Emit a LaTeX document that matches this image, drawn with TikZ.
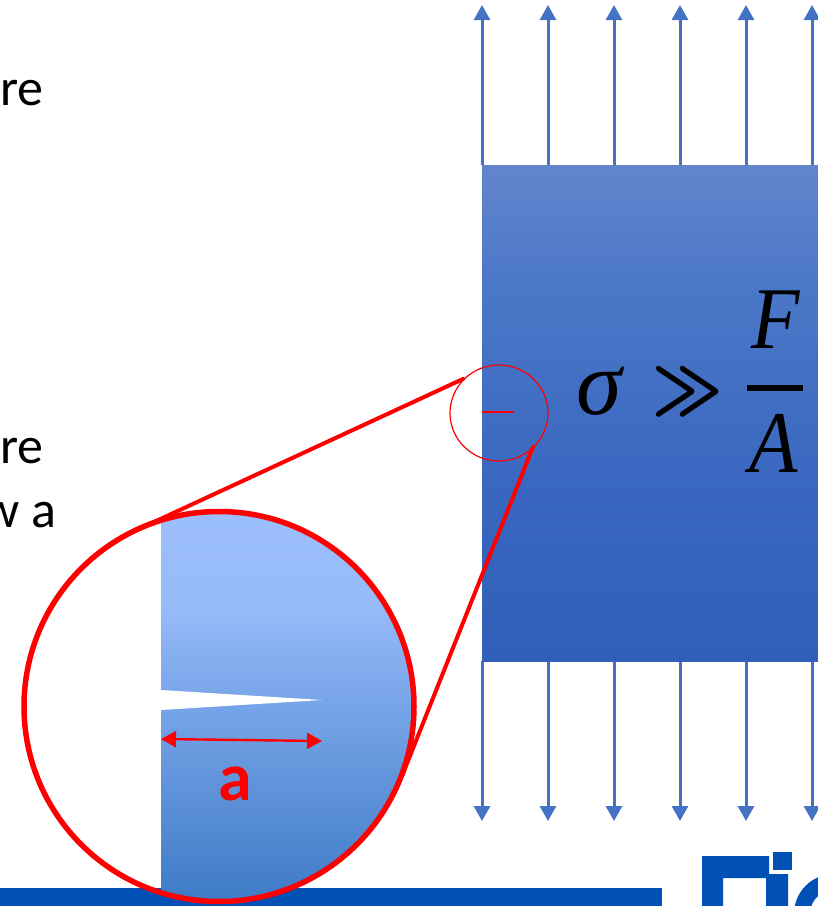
\documentclass[tikz,border=0pt]{standalone}
\usepackage{fontspec}
\setmainfont{Carlito}
\newfontfamily\mathish{Liberation Serif}
\newfontfamily\symbolish[FakeBold=2.6]{Latin Modern Math}
\usetikzlibrary{arrows.meta,shapes.geometric}
\definecolor{arrowblue}{HTML}{4472C4}
\definecolor{brandblue}{HTML}{0050B5}
\definecolor{pA}{HTML}{2F5FB8}\definecolor{pB}{HTML}{3A68C0}\definecolor{pC}{HTML}{4C78C8}\definecolor{pD}{HTML}{6385CC}
\definecolor{zA}{HTML}{3F7BC6}\definecolor{zB}{HTML}{84AEF0}\definecolor{zC}{HTML}{97BAF9}\definecolor{zD}{HTML}{9CBEFC}
\pgfdeclareverticalshading{plategrad}{100bp}{color(0bp)=(pA); color(25bp)=(pA); color(43.5bp)=(pB); color(63.5bp)=(pC); color(75bp)=(pD); color(100bp)=(pD)}
\pgfdeclareverticalshading{lensgrad}{100bp}{color(0bp)=(zA); color(25bp)=(zA); color(56bp)=(zB); color(62.5bp)=(zC); color(75bp)=(zD); color(100bp)=(zD)}
\tikzset{
  loadarrow/.style={draw=arrowblue,line width=3pt,-{Triangle[length=15pt,width=16pt,fill=arrowblue]}},
  leader/.style={draw=red,line width=4pt,line cap=round},
  sidetext/.style={inner sep=0pt,anchor=base west,font=\fontsize{52}{52}\selectfont,text=black},
  mathtext/.style={inner sep=0pt,anchor=base,font=\fontsize{88}{88}\selectfont\mathish\itshape,text=black}
}
\begin{document}
\begin{tikzpicture}[x=1pt,y=-1pt]
\useasboundingbox (0,0) rectangle (818,906);
% side text fragments
\node[sidetext] (t1) at (0,105) {re};
\node[sidetext] (t2) at (0,463) {re};
\node[sidetext,anchor=base east] (t3) at (57,527) {w a};
% load arrows
\foreach \i/\x in {1/482,2/548,3/614,4/680,5/746,6/812}{
  \coordinate (ts\i) at (\x,165); \coordinate (te\i) at (\x,5);
  \coordinate (bs\i) at (\x,661); \coordinate (be\i) at (\x,821);
  \draw[loadarrow] (ts\i) -- (te\i);
  \draw[loadarrow] (bs\i) -- (be\i);
}
% plate
\shade[shading=plategrad] (482,165) rectangle (818,661);
% formula
\node[mathtext,font=\fontsize{92}{92}\selectfont\mathish\itshape] (sigma) at (599,414) {σ};
\node[inner sep=0pt,anchor=base,font=\fontsize{72}{72}\selectfont\symbolish,text=black,yscale=1.15] (gg) at (687,412) {≫};
\node[mathtext,xscale=.9] (F) at (776,348) {F};
\node[mathtext,xscale=.9] (A) at (774,472) {A};
\coordinate (barL) at (747,388); \coordinate (barR) at (803,388);
\draw[black,line width=6pt] (barL) -- (barR);
% bottom band and logo
\fill[brandblue] (0,888) rectangle (662,906);
\fill[brandblue] (702,856) -- (769,856) -- (769,874) -- (788,874) -- (788,906) -- (766,906) -- (766,878) -- (723,878) -- (723,906) -- (702,906) -- cycle;
\fill[brandblue] (773,852) rectangle (792,870);
\begin{scope}
\clip (790,860) rectangle (818,906);
\draw[brandblue,line width=16pt] (834,914) circle[radius=32];
\end{scope}
% magnified detail
\begin{scope}
\clip (219,706) circle[radius=195];
\shade[shading=lensgrad] (161,512) rectangle (415,900);
\fill[white] (161,690) -- (322,700) -- (161,710) -- cycle;
\end{scope}
\node[draw=red,line width=5.5pt,circle,inner sep=0pt,minimum size=390pt] (lens) at (219,706.5) {};
% small detail marker
\coordinate (crackL) at (482,412); \coordinate (crackR) at (514,412);
\draw[red,line width=2pt] (crackL) -- (crackR);
\node[draw=red,line width=1.2pt,ellipse,inner sep=0pt,minimum width=98pt,minimum height=96pt] (spot) at (499,413) {};
% leaders
\coordinate (l1a) at (463,379); \coordinate (l1b) at (128,534);
\coordinate (l2a) at (533,447); \coordinate (l2b) at (402,776);
\draw[leader] (l1a) -- (l1b);
\draw[leader] (l2a) -- (l2b);
% crack length
\coordinate (aL) at (161,739); \coordinate (aR) at (322,741);
\draw[red,line width=2.4pt,{Triangle[length=15pt,width=16pt]}-{Triangle[length=15pt,width=16pt]}] (aL) -- (aR);
\node[inner sep=0pt,anchor=base,text=red,font=\fontsize{68}{68}\selectfont\bfseries] (alabel) at (235,800) {a};
\end{tikzpicture}
\end{document}
